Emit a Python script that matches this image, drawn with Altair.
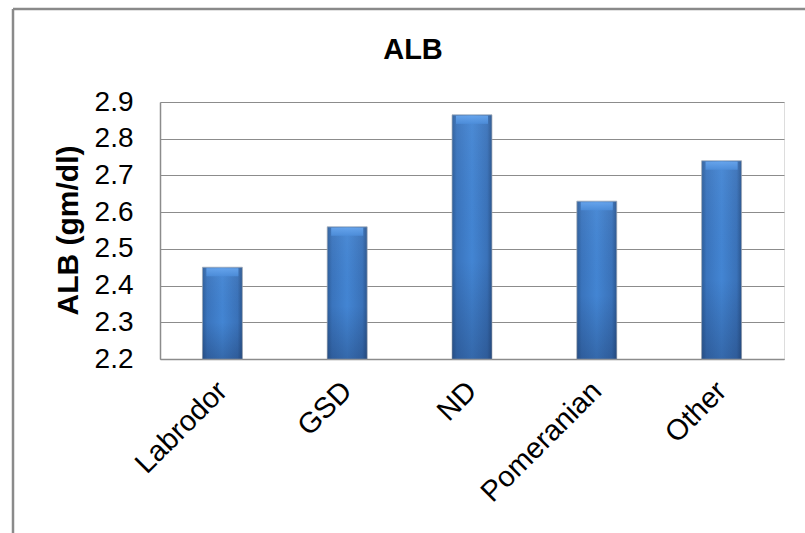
import altair as alt
import pandas as pd

breeds = ["Labrodor", "GSD", "ND", "Pomeranian", "Other"]
alb_values = [2.45, 2.56, 2.865, 2.63, 2.74]
y_ticks = [2.2, 2.3, 2.4, 2.5, 2.6, 2.7, 2.8, 2.9]
chart_title = ["ALB"]

df = pd.DataFrame({"breed": breeds, "value": alb_values})
FONT = "Liberation Sans"
GRID = "#8c8c8c"

bar_fill = {
    "gradient": "linear", "x1": 0, "x2": 1, "y1": 0, "y2": 0,
    "stops": [
        {"offset": 0, "color": "#2d5d99"},
        {"offset": 0.12, "color": "#3a74bd"},
        {"offset": 0.5, "color": "#4385d3"},
        {"offset": 0.88, "color": "#3a72b9"},
        {"offset": 1, "color": "#2a558e"},
    ],
}
shade_fill = {
    "gradient": "linear", "x1": 0, "x2": 0, "y1": 0, "y2": 1,
    "stops": [
        {"offset": 0, "color": "rgba(255,255,255,0.05)"},
        {"offset": 0.6, "color": "rgba(20,40,80,0.0)"},
        {"offset": 1, "color": "rgba(20,40,80,0.3)"},
    ],
}
bevel_fill = {
    "gradient": "linear", "x1": 0, "x2": 0, "y1": 0, "y2": 1,
    "stops": [
        {"offset": 0, "color": "#6aa8f0"},
        {"offset": 1, "color": "#4d8edb"},
    ],
}

x_scale = alt.Scale(paddingInner=0.68, paddingOuter=0.34)
y_scale = alt.Scale(domain=[2.2, 2.9], zero=False, nice=False)

x_axis = alt.Axis(
    title=None, labelAngle=-45, labelAlign="right", labelBaseline="middle",
    labelFontSize=29, labelFont=FONT, labelColor="#000000", labelPadding=27,
    labelOverlap=False, labelLimit=400,
    ticks=False, domainColor=GRID, domainWidth=1.5, grid=False,
)
y_axis = alt.Axis(
    title="ALB (gm/dl)", values=y_ticks, format=".1f", labelOverlap=False,
    labelFontSize=28, labelFont=FONT, labelColor="#000000", labelPadding=27,
    ticks=False, domainColor=GRID, domainWidth=1.5,
    grid=True, gridColor=GRID, gridWidth=1.2,
    titleFontSize=30, titleFont=FONT, titleFontWeight="bold", titleColor="#000000",
    titleAngle=-90, titleAlign="center", titleBaseline="alphabetic",
    titleX=-83, titleY=128,
)


def x_enc():
    return alt.X("breed:N", sort=breeds, scale=x_scale, axis=x_axis)


def y_enc():
    return alt.Y("value:Q", scale=y_scale, axis=y_axis)


bars = alt.Chart(df).mark_bar(
    color=bar_fill, stroke="#a0a8b4", strokeWidth=1, strokeOpacity=0.7
).encode(x=x_enc(), y=y_enc(), y2=alt.datum(2.2))
shade = alt.Chart(df).mark_bar(color=shade_fill).encode(
    x=x_enc(), y=y_enc(), y2=alt.datum(2.2)
)
bevel = alt.Chart(df).mark_tick(color=bevel_fill, thickness=8, size=32, opacity=0.85, yOffset=5).encode(
    x=x_enc(), y=y_enc()
)

single = pd.DataFrame({"label": chart_title})
frame_left = alt.Chart(single).mark_rule(color="#8a8a8a", strokeWidth=2.5).encode(
    x=alt.value(-147), y=alt.value(-93), y2=alt.value(500)
)
frame_top = alt.Chart(single).mark_rule(color="#8a8a8a", strokeWidth=2.5).encode(
    x=alt.value(-147), x2=alt.value(700), y=alt.value(-93)
)
title_text = alt.Chart(single).mark_text(
    font=FONT, fontSize=29, fontWeight="bold", color="#000000",
    align="center", baseline="alphabetic",
).encode(text="label:N", x=alt.value(253), y=alt.value(-43))

chart = alt.layer(frame_left, frame_top, title_text, bars, shade, bevel).properties(
    width=624, height=257,
    autosize=alt.AutoSizeParams(type="none"),
    padding={"left": 160, "top": 102, "right": 21, "bottom": 174},
).configure_view(stroke=None).configure(background="white")

chart.save("out.html", embed_options={"renderer": "svg", "actions": False})
